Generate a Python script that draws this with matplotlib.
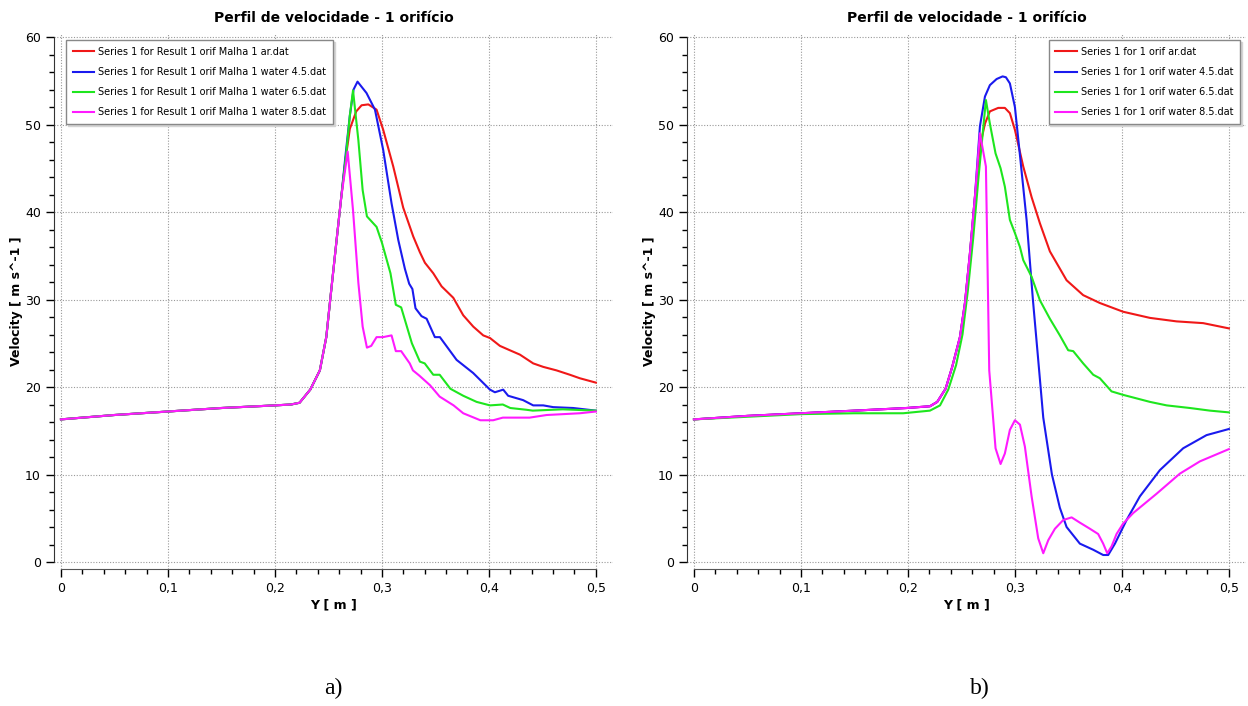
import numpy as np
import matplotlib.pyplot as plt
from matplotlib.ticker import MultipleLocator, FuncFormatter

# perfil de velocidade ao longo de Y (m) -- malha 1, 1 orifício
# trecho comum de subida (mesmo para as quatro séries)
y_base_a = [0, 0.05, 0.1, 0.15, 0.2, 0.215, 0.223, 0.233, 0.242, 0.248, 0.253, 0.258, 0.262]
v_base_a = [16.3, 16.8, 17.2, 17.6, 17.9, 18.0, 18.2, 19.7, 21.9, 25.7, 31.5, 37.2, 41.7]

# a) Result 1 orif Malha 1
y_ar_a = y_base_a + [0.266, 0.270, 0.276, 0.281, 0.2873, 0.295, 0.3012, 0.3106, 0.3199, 0.3293,
                     0.3355, 0.3402, 0.348, 0.3558, 0.3667, 0.376, 0.3854, 0.3947, 0.401, 0.4103,
                     0.4196, 0.429, 0.4414, 0.4508, 0.4632, 0.4757, 0.485, 0.5]
v_ar_a = v_base_a + [46.0, 49.5, 51.5, 52.2, 52.3, 51.7, 49.4, 45.2, 40.5, 37.2,
                     35.4, 34.2, 33.0, 31.5, 30.2, 28.2, 26.9, 25.9, 25.6, 24.7,
                     24.2, 23.7, 22.7, 22.3, 21.9, 21.4, 21.0, 20.5]

y_w45_a = y_base_a + [0.266, 0.270, 0.2735, 0.2772, 0.2856, 0.2935, 0.3012, 0.309, 0.3153, 0.3215,
                      0.3255, 0.3285, 0.3314, 0.337, 0.3418, 0.3495, 0.3542, 0.3698, 0.3853, 0.401,
                      0.4056, 0.4134, 0.418, 0.432, 0.4414, 0.4508, 0.4601, 0.4788, 0.5]
v_w45_a = v_base_a + [46.5, 51.0, 54.0, 54.9, 53.6, 51.7, 47.1, 41.0, 36.8, 33.5,
                      31.8, 31.2, 29.0, 28.1, 27.8, 25.7, 25.7, 23.1, 21.6, 19.7,
                      19.4, 19.7, 19.0, 18.5, 17.9, 17.9, 17.7, 17.6, 17.3]

y_w65_a = y_base_a + [0.2665, 0.270, 0.273, 0.278, 0.282, 0.286, 0.295, 0.300, 0.308, 0.313,
                      0.318, 0.328, 0.3355, 0.340, 0.348, 0.354, 0.364, 0.376, 0.3885, 0.401,
                      0.413, 0.420, 0.435, 0.441, 0.469, 0.5]
v_w65_a = v_base_a + [46.5, 51.0, 53.9, 48.2, 42.5, 39.5, 38.3, 36.5, 33.0, 29.4,
                      29.1, 25.0, 22.9, 22.7, 21.4, 21.4, 19.8, 19.0, 18.3, 17.9,
                      18.0, 17.6, 17.4, 17.3, 17.45, 17.3]

y_w85_a = y_base_a + [0.268, 0.273, 0.278, 0.282, 0.286, 0.290, 0.295, 0.301, 0.309, 0.313,
                      0.318, 0.326, 0.329, 0.335, 0.345, 0.354, 0.367, 0.376, 0.392, 0.404,
                      0.413, 0.438, 0.454, 0.485, 0.5]
v_w85_a = v_base_a + [46.9, 40.2, 31.9, 26.9, 24.5, 24.7, 25.7, 25.7, 25.9, 24.1,
                      24.1, 22.7, 21.9, 21.3, 20.2, 18.9, 17.9, 17.0, 16.2, 16.2,
                      16.5, 16.5, 16.8, 17.0, 17.2]

# b) 1 orif
y_base_b = [0, 0.05, 0.1, 0.15, 0.1987, 0.2206, 0.2274, 0.2352, 0.2414, 0.2486, 0.2533, 0.2579, 0.2626]
v_base_b = [16.3, 16.7, 17.0, 17.3, 17.6, 17.8, 18.3, 19.8, 22.3, 25.7, 29.6, 35.2, 41.7]

y_ar_b = y_base_b + [0.2673, 0.272, 0.2766, 0.2844, 0.2906, 0.2953, 0.300, 0.3078, 0.3156, 0.3234,
                     0.3327, 0.3483, 0.3638, 0.3794, 0.4012, 0.4262, 0.4511, 0.476, 0.5]
v_ar_b = v_base_b + [47.5, 50.1, 51.5, 51.9, 51.9, 51.3, 49.4, 45.2, 41.7, 38.7,
                     35.5, 32.2, 30.5, 29.6, 28.6, 27.9, 27.5, 27.3, 26.7]

y_w45_b = y_base_b + [0.2673, 0.272, 0.2766, 0.2829, 0.2885, 0.2916, 0.2953, 0.300, 0.3047, 0.311,
                      0.3168, 0.3215, 0.3265, 0.3346, 0.342, 0.3483, 0.3607, 0.3732, 0.3825, 0.3872,
                      0.3935, 0.4044, 0.4168, 0.4355, 0.4573, 0.4791, 0.5]
v_w45_b = v_base_b + [49.8, 53.2, 54.5, 55.2, 55.5, 55.4, 54.7, 52.0, 46.5, 39.0,
                      30.0, 23.5, 16.5, 10.0, 6.2, 4.0, 2.1, 1.4, 0.8, 0.8,
                      2.1, 4.8, 7.5, 10.5, 13.0, 14.5, 15.2]

y_w65_b = [0, 0.05, 0.1, 0.15, 0.1956, 0.2206, 0.23, 0.2377, 0.245, 0.251, 0.256, 0.261, 0.266,
           0.2729, 0.2766, 0.2819, 0.2866, 0.2906, 0.2953, 0.300, 0.3047, 0.3078, 0.3156, 0.3234,
           0.3327, 0.342, 0.3498, 0.3545, 0.3638, 0.3732, 0.3794, 0.3903, 0.4012, 0.4106,
           0.4262, 0.4418, 0.4636, 0.4823, 0.5]
v_w65_b = [16.3, 16.6, 16.9, 17.0, 17.0, 17.3, 17.9, 19.7, 22.5, 26.0, 31.0, 37.0, 44.0,
           52.8, 50.1, 46.7, 45.0, 42.9, 39.1, 37.6, 36.0, 34.5, 32.6, 29.9,
           27.8, 25.9, 24.2, 24.1, 22.7, 21.4, 21.0, 19.5, 19.1, 18.8,
           18.3, 17.9, 17.6, 17.3, 17.1]

y_w85_b = y_base_b + [0.2673, 0.2729, 0.276, 0.2819, 0.2866, 0.2906, 0.2953, 0.300, 0.3047, 0.3093,
                      0.3156, 0.3218, 0.3265, 0.3312, 0.3374, 0.3452, 0.353, 0.3607, 0.3701, 0.3778,
                      0.3825, 0.3863, 0.3904, 0.395, 0.4012, 0.4106, 0.4324, 0.4542, 0.4729, 0.5]
v_w85_b = v_base_b + [49.0, 45.2, 21.9, 13.0, 11.2, 12.4, 15.1, 16.2, 15.7, 13.2,
                      7.5, 2.7, 1.0, 2.5, 3.8, 4.8, 5.1, 4.5, 3.8, 3.2,
                      2.1, 1.0, 1.8, 3.2, 4.4, 5.6, 7.8, 10.1, 11.5, 12.9]

labels_a = ["Series 1 for Result 1 orif Malha 1 ar.dat",
            "Series 1 for Result 1 orif Malha 1 water 4.5.dat",
            "Series 1 for Result 1 orif Malha 1 water 6.5.dat",
            "Series 1 for Result 1 orif Malha 1 water 8.5.dat"]
labels_b = ["Series 1 for 1 orif ar.dat",
            "Series 1 for 1 orif water 4.5.dat",
            "Series 1 for 1 orif water 6.5.dat",
            "Series 1 for 1 orif water 8.5.dat"]

cores = ["#f01818", "#1a1aee", "#1ee61e", "#ff1aff"]

plt.rcParams["font.family"] = ["DejaVu Sans"]

W, H = 1248, 706
fig = plt.figure(figsize=(W / 100, H / 100), dpi=100)

virgula = FuncFormatter(lambda x, pos: ("%g" % x).replace(".", ","))


def painel(left_px, series, labels, leg_anchor, leg_loc):
    ax = fig.add_axes([left_px / W, 137 / H, 559 / W, 536 / H])
    for (yy, vv), lab, c in zip(series, labels, cores):
        ax.plot(yy, vv, color=c, lw=1.5, label=lab)
    ax.set_xlim(-0.0065, 0.516)
    ax.set_ylim(-0.8, 60.46)
    for s in ["top", "right"]:
        ax.spines[s].set_visible(False)
    ax.spines["left"].set_bounds(0, 60)
    ax.spines["bottom"].set_bounds(0, 0.5)
    ax.spines["left"].set_color("#333333")
    ax.spines["bottom"].set_color("#555555")
    ax.xaxis.set_major_locator(MultipleLocator(0.1))
    ax.xaxis.set_minor_locator(MultipleLocator(0.02))
    ax.yaxis.set_major_locator(MultipleLocator(10))
    ax.yaxis.set_minor_locator(MultipleLocator(2))
    ax.xaxis.set_major_formatter(virgula)
    ax.tick_params(which="major", length=6, width=1, labelsize=9, direction="out")
    ax.tick_params(which="minor", length=3.5, width=1, direction="out")
    ax.grid(True, which="major", color="#999999", linestyle=(0, (1, 1.5)), linewidth=0.8)
    ax.set_xlabel("Y [ m ]", fontsize=9, fontweight="bold", labelpad=2)
    ax.set_ylabel("Velocity [ m s^-1 ]", fontsize=9, fontweight="bold", labelpad=1)
    ax.set_title("Perfil de velocidade - 1 orifício", fontsize=10, fontweight="bold", pad=8)
    ax.legend(loc=leg_loc, bbox_to_anchor=leg_anchor, bbox_transform=fig.transFigure,
              fontsize=7, frameon=True, fancybox=False, edgecolor="#888888",
              framealpha=1, borderaxespad=0, handlelength=2.2, handletextpad=0.4,
              labelspacing=1.05, borderpad=0.7,
              shadow={"ox": 1.2, "oy": -1.2, "color": "#d4d4d4", "alpha": 1})
    return ax


painel(54, [(y_ar_a, v_ar_a), (y_w45_a, v_w45_a), (y_w65_a, v_w65_a), (y_w85_a, v_w85_a)],
       labels_a, (66 / W, 1 - 40 / H), "upper left")
painel(687, [(y_ar_b, v_ar_b), (y_w45_b, v_w45_b), (y_w65_b, v_w65_b), (y_w85_b, v_w85_b)],
       labels_b, (1240 / W, 1 - 40 / H), "upper right")

fig.text(333 / W, 1 - 688 / H, "a)", fontsize=17, family="Liberation Serif", ha="center", va="center")
fig.text(980 / W, 1 - 688 / H, "b)", fontsize=17, family="Liberation Serif", ha="center", va="center")

fig.savefig("out.png", dpi=100)
